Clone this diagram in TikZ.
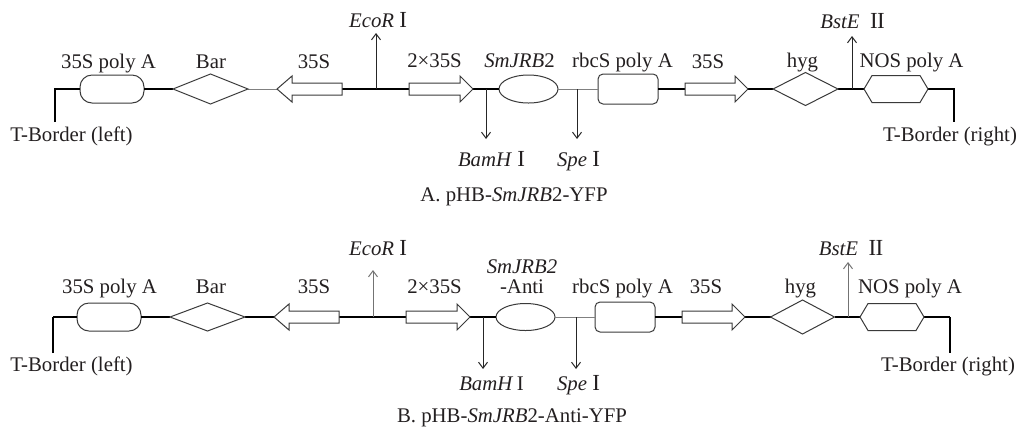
\documentclass[tikz,border=0pt]{standalone}
\usepackage{fontspec}
\setmainfont{Liberation Serif}
\usetikzlibrary{shapes.geometric,calc,arrows.meta}
\definecolor{txt}{HTML}{231F20}
\definecolor{shp}{HTML}{3A3A3A}
\definecolor{thn}{HTML}{808080}
\newcommand\rblk[1]{\draw[blk] ($(#1.west)+(0,-6)$) -- ($(#1.east)+(-13,-6)$) -- ($(#1.east)+(-13,-13)$) -- (#1.east) -- ($(#1.east)+(-13,13)$) -- ($(#1.east)+(-13,6)$) -- ($(#1.west)+(0,6)$) -- cycle;}
\newcommand\lblk[1]{\draw[blk] ($(#1.east)+(0,-6)$) -- ($(#1.west)+(15,-6)$) -- ($(#1.west)+(15,-13)$) -- (#1.west) -- ($(#1.west)+(15,13)$) -- ($(#1.west)+(15,6)$) -- ($(#1.east)+(0,6)$) -- cycle;}
\newcommand\dmd[1]{\draw[blk] (#1.west) -- (#1.north) -- (#1.east) -- (#1.south) -- cycle;}
\newcommand\hexa[1]{\draw[blk] (#1.west) -- ($(#1.north west)+(8,0)$) -- ($(#1.north east)+(-8,0)$) -- (#1.east) -- ($(#1.south east)+(-8,0)$) -- ($(#1.south west)+(8,0)$) -- cycle;}
\newcommand\rnI{{\fontsize{11.5}{12}\selectfont I}}
\newcommand\rnII{{\fontsize{11.5}{12}\selectfont I\kern-0.3pt I}}
\begin{document}
\begin{tikzpicture}[x=0.5pt,y=-0.5pt,
  every node/.style={font=\fontsize{10.4}{12}\selectfont, text=txt},
  lbl/.style={anchor=base, inner sep=0pt},
  box/.style={inner sep=0pt, outer sep=0pt},
  shp/.style={draw=shp, line width=0.5pt, inner sep=0pt, outer sep=0pt, fill=white},
  blk/.style={draw=shp, line width=0.5pt, fill=white, line join=miter},
  bb/.style={line width=1pt, draw=black, line join=miter},
  bbv/.style={line width=0.6pt, draw=black},
  tn/.style={line width=0.5pt, draw=thn},
  site/.style={line width=0.5pt, draw=black!85, -{Straight Barb[length=3pt,width=4.5pt]}},
  siteg/.style={site, draw=black!55}
]
\useasboundingbox (0,0) rectangle (1020,430);

% ---------------- Panel A ----------------
\coordinate (TLa) at (55,122);
\coordinate (TLb) at (55,89);
\node[shp, rounded corners=6pt, minimum width=32pt, minimum height=14pt] (pa) at (112,89) {};
\node[box, minimum width=37.5pt, minimum height=15pt] (bar) at (210.5,89) {};
\node[box, minimum width=32.5pt, minimum height=13pt] (a1) at (309.5,89) {};
\coordinate (eco) at (376,89);
\coordinate (ecoT) at (376,33);
\node[box, minimum width=32pt, minimum height=13pt] (a2) at (441,89) {};
\coordinate (bam) at (486,89);
\coordinate (bamT) at (486,139);
\node[shp, ellipse, minimum width=29.5pt, minimum height=14pt] (sm) at (528.5,89) {};
\coordinate (spe) at (577,89);
\coordinate (speT) at (577,139);
\node[shp, rounded corners=2.5pt, minimum width=30pt, minimum height=15pt] (rb) at (628,89) {};
\node[box, minimum width=31.5pt, minimum height=13pt] (a3) at (716.5,89) {};
\node[box, minimum width=32.5pt, minimum height=16.5pt] (hyg) at (805.5,89) {};
\coordinate (bst) at (852,89);
\coordinate (bstT) at (852,36);
\node[box, minimum width=32pt, minimum height=13.5pt] (nos) at (896,89) {};
\coordinate (TRb) at (954,89);
\coordinate (TRa) at (954,122);

\draw[bb] (TLa) -- (TLb) -- (pa.west);
\draw[bb] (pa.east) -- (bar.west);
\draw[tn] (bar.east) -- (a1.west);
\draw[bb] (a1.east) -- (a2.west);
\draw[bb] (a2.east) -- (sm.west);
\draw[tn] (sm.east) -- (rb.west);
\draw[bb] (rb.east) -- (a3.west);
\draw[bb] (a3.east) -- (hyg.west);
\draw[bb] (hyg.east) -- (nos.west);
\draw[bb] (nos.east) -- (TRb) -- (TRa);
\draw[site] (eco) -- (ecoT);
\draw[site] (bam) -- (bamT);
\draw[site] (spe) -- (speT);
\draw[site] (bst) -- (bstT);
\dmd{bar}\lblk{a1}\rblk{a2}\rblk{a3}\dmd{hyg}\hexa{nos}

\node[lbl] (Lpa) at (108.5,68) {35S poly A};
\node[lbl] (Lbar) at (211,68) {Bar};
\node[lbl] (La1) at (314,68) {35S};
\node[lbl] (Leco) at (378,27) {\textit{EcoR} \rnI};
\node[lbl] (La2) at (434.5,67) {2×35S};
\node[lbl] (Lsm) at (519.5,67) {\textit{SmJRB}2};
\node[lbl] (Lrb) at (622.5,67) {rbcS poly A};
\node[lbl] (La3) at (708,68) {35S};
\node[lbl] (Lhyg) at (802.5,67) {hyg};
\node[lbl] (Lbst) at (852.5,28) {\textit{BstE}\ \ \rnII};
\node[lbl] (Lnos) at (911.5,67) {NOS poly A};
\node[lbl] (Ltl) at (71.5,141) {T-Border (left)};
\node[lbl] (Ltr) at (950,141) {T-Border (right)};
\node[lbl] (Lbam) at (491.5,166) {\textit{BamH} \rnI};
\node[lbl] (Lspe) at (578.5,166) {\textit{Spe} \rnI};
\node[lbl] (capA) at (514,201) {A. pHB-\textit{SmJRB}2-YFP};

% ---------------- Panel B ----------------
\begin{scope}[shift={(0,228)}]
\begin{scope}[shift={(-3,0)}]
\coordinate (TLaB) at (56,125);
\coordinate (TLbB) at (56,89);
\node[shp, rounded corners=6pt, minimum width=32pt, minimum height=14pt] (paB) at (112,89) {};
\node[box, minimum width=37.5pt, minimum height=14pt] (barB) at (210.5,89) {};
\node[box, minimum width=32.5pt, minimum height=13pt] (a1B) at (309.5,89) {};
\coordinate (ecoB) at (376,89);
\coordinate (ecoTB) at (376,42);
\node[box, minimum width=32pt, minimum height=13pt] (a2B) at (441,89) {};
\coordinate (bamB) at (486,89);
\coordinate (bamTB) at (486,141);
\node[shp, ellipse, minimum width=29.5pt, minimum height=13.5pt] (smB) at (528.5,89) {};
\coordinate (speB) at (579,89);
\coordinate (speTB) at (579,141);
\node[shp, rounded corners=2.5pt, minimum width=30pt, minimum height=15pt] (rbB) at (628,89) {};
\node[box, minimum width=31.5pt, minimum height=13pt] (a3B) at (716.5,89) {};
\node[box, minimum width=32pt, minimum height=17pt] (hygB) at (805.5,89) {};
\coordinate (bstB) at (851,89);
\coordinate (bstTB) at (851,34);
\node[box, minimum width=32pt, minimum height=13.5pt] (nosB) at (895,89) {};
\coordinate (TRbB) at (953,89);
\coordinate (TRaB) at (953,125);

\draw[bbv] (TLaB) -- (TLbB);
\draw[bb] (TLbB) -- (paB.west);
\draw[bb] (paB.east) -- (barB.west);
\draw[bb] (barB.east) -- (a1B.west);
\draw[bb] (a1B.east) -- (a2B.west);
\draw[bb] (a2B.east) -- (smB.west);
\draw[tn] (smB.east) -- (rbB.west);
\draw[bb] (rbB.east) -- (a3B.west);
\draw[bb] (a3B.east) -- (hygB.west);
\draw[bb] (hygB.east) -- (nosB.west);
\draw[bb] (nosB.east) -- (TRbB);
\draw[bbv] (TRbB) -- (TRaB);
\draw[siteg] (ecoB) -- (ecoTB);
\draw[site] (bamB) -- (bamTB);
\draw[site] (speB) -- (speTB);
\draw[siteg] (bstB) -- (bstTB);
\dmd{barB}\lblk{a1B}\rblk{a2B}\rblk{a3B}\dmd{hygB}\hexa{nosB}
\end{scope}

\node[lbl] (LpaB) at (109.5,65) {35S poly A};
\node[lbl] (LbarB) at (211,65) {Bar};
\node[lbl] (La1B) at (314,65) {35S};
\node[lbl] (LecoB) at (378,27) {\textit{EcoR} \rnI};
\node[lbl] (La2B) at (434.5,65) {2×35S};
\node[lbl] (LsmB) at (522,45) {\textit{SmJRB2}};
\node[lbl] (LantiB) at (522,65) {-Anti};
\node[lbl] (LrbB) at (622.5,65) {rbcS poly A};
\node[lbl] (La3B) at (706,65) {35S};
\node[lbl] (LhygB) at (800.5,65) {hyg};
\node[lbl] (LbstB) at (851,27) {\textit{BstE}\ \ \rnII};
\node[lbl] (LnosB) at (910,65) {NOS poly A};
\node[lbl] (LtlB) at (71.5,143) {T-Border (left)};
\node[lbl] (LtrB) at (948,143) {T-Border (right)};
\node[lbl] (LbamB) at (491.5,162) {\textit{BamH}\,I};
\node[lbl] (LspeB) at (578.5,162) {\textit{Spe} \rnI};
\node[lbl] (capB) at (512,194) {B. pHB-\textit{SmJRB}2-Anti-YFP};
\end{scope}
\end{tikzpicture}
\end{document}
